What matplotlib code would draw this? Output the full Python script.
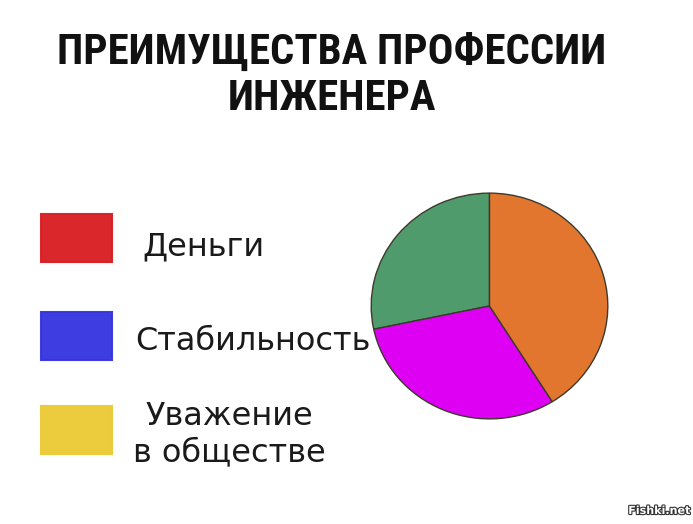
import matplotlib.pyplot as plt
import matplotlib.patheffects as pe
from matplotlib import font_manager
from matplotlib.patches import Rectangle

# legend (what the chart claims to show)
legend_labels = ['Деньги', 'Стабильность', 'Уважение\nв обществе']
legend_colors = ['#d92024', '#3636e0', '#eccb36']

# pie (what it actually shows)
pie_values = [28.3, 30.6, 41.1]
pie_colors = ['#4f9b6c', '#dd00f2', '#e2762e']

title = 'ПРЕИМУЩЕСТВА ПРОФЕССИИ\nИНЖЕНЕРА'
watermark = 'Fishki.net'

W, H = 693, 524


def pick_title_font():
    """
    look for a bold condensed face, else plain bold Roboto / DejaVu
    """
    def wnum(w):
        if isinstance(w, str):
            return font_manager.weight_dict.get(w, 400)
        return w
    order = ['Liberation Sans Narrow', 'Roboto Condensed', 'Noto Sans',
             'DejaVu Sans', 'Open Sans', 'Roboto']
    narrow = ('condensed', 'semi-condensed', 'extra-condensed', 'ultra-condensed')
    cands = [f for f in font_manager.fontManager.ttflist
             if (f.stretch in narrow or 'Narrow' in f.name or 'Condensed' in f.name)
             and wnum(f.weight) >= 700]
    for fam in order:
        for f in cands:
            if f.name == fam:
                return font_manager.FontProperties(fname=f.fname)
    names = {f.name for f in font_manager.fontManager.ttflist}
    fam = 'Roboto' if 'Roboto' in names else 'DejaVu Sans'
    return font_manager.FontProperties(family=fam, weight='bold')


fig = plt.figure(figsize=(W / 100, H / 100), dpi=100)
fig.patch.set_facecolor('white')

# full-figure axes in pixel units for title and legend
ax0 = fig.add_axes([0, 0, 1, 1])
ax0.set_xlim(0, W)
ax0.set_ylim(H, 0)
ax0.axis('off')

# fit first title line to its width in the reference (~547 px)
tprop = pick_title_font()
probe = ax0.text(0, 0, title.split('\n')[0], fontproperties=tprop, fontsize=30)
fig.canvas.draw()
wpx = probe.get_window_extent().width
probe.remove()
tsize = 30 * 547 / wpx

ax0.text(332, 110, title, ha='center', va='baseline', multialignment='center',
         fontproperties=tprop, fontsize=tsize, linespacing=1.17, color='#111111')

# legend boxes and labels
box_x, box_w, box_h = 41, 71, 48
box_tops = [214, 312, 406]
text_x = [142, 135, 133]
text_base = [255, 350, 461]  # baseline of last line of each label
for i in range(len(legend_labels)):
    ax0.add_patch(Rectangle((box_x, box_tops[i]), box_w, box_h,
                            facecolor=legend_colors[i], edgecolor=legend_colors[i],
                            linewidth=1.5, alpha=0.97))
    ax0.text(text_x[i], text_base[i], legend_labels[i], ha='left', va='baseline',
             multialignment='center', family='DejaVu Sans', fontsize=23,
             linespacing=1.22, color='#1a1a1a')

ax0.text(690, 511, watermark, ha='right', va='center', fontsize=8,
         fontweight='bold', family='DejaVu Sans', color='white',
         path_effects=[pe.withStroke(linewidth=1.6, foreground='#333333')])

# pie
ax1 = fig.add_axes([370 / W, (H - 420) / H, 239 / W, 228 / H])
ax1.pie(pie_values, colors=pie_colors, startangle=90, counterclock=True,
        wedgeprops=dict(edgecolor='#3c3a2c', linewidth=1.0))
ax1.set_aspect('auto')
ax1.set_xlim(-1.01, 1.01)
ax1.set_ylim(-1.01, 1.01)
ax1.axis('off')

plt.savefig('out.png', dpi=100, facecolor='white')
